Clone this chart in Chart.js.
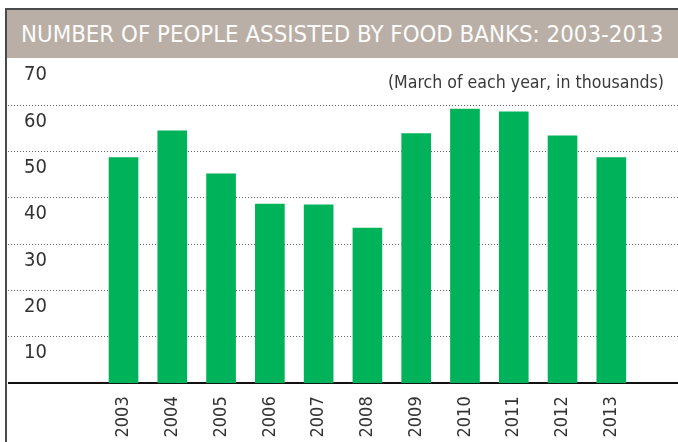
<!DOCTYPE html>
<html>
<head>
<meta charset="utf-8">
<title>Food bank use 2003-2013</title>
<script src="https://cdn.jsdelivr.net/npm/chart.js@4.4.0/dist/chart.umd.min.js"></script>
<style>
	html, body { margin: 0; padding: 0; background: #fff; }
	body { width: 678px; height: 442px; position: relative; overflow: hidden; font-family: 'Liberation Sans Narrow', 'DejaVu Sans Condensed', sans-serif; }
	#frame { position: absolute; left: 5px; top: 8px; width: 673px; height: 434px; border-left: 2px solid #4a4a4a; border-top: 2px solid #4a4a4a; }
	#heading { position: absolute; left: 7px; top: 10px; width: 671px; height: 48px; background: #b9afa6; color: #fdfcfb; font-size: 23.8px; line-height: 48px; padding-left: 14px; box-sizing: border-box; white-space: nowrap; }
	#note { position: absolute; right: 14px; top: 72px; font-size: 17.6px; line-height: 20px; color: #3a3a3a; white-space: nowrap; }
	#wrap { position: absolute; left: 8px; top: 59px; width: 670px; height: 383px; }
</style>
</head>
<body>
<div id="frame"></div>
<div id="heading">NUMBER OF PEOPLE ASSISTED BY FOOD BANKS: 2003-2013</div>
<div id="wrap"><canvas id="chartFoodBanks"></canvas></div>
<div id="note">(March of each year, in thousands)</div>
<script>
// people assisted in March, thousands
var years = [2003, 2004, 2005, 2006, 2007, 2008, 2009, 2010, 2011, 2012, 2013];
var assisted = [48.7, 54.5, 45.2, 38.7, 38.5, 33.5, 53.9, 59.2, 58.6, 53.4, 48.7];
var yTicks = [0, 10, 20, 30, 40, 50, 60, 70];

var labelFont = "'Liberation Sans Narrow', 'DejaVu Sans Condensed', sans-serif";

// keep label overhang from shrinking the plot area
function noPadding(axis) {
	axis.paddingTop = 0;
	axis.paddingBottom = 0;
	axis.paddingLeft = 0;
	axis.paddingRight = 0;
}

var ctx = document.getElementById('chartFoodBanks').getContext('2d');
var chart = new Chart(ctx, {
	type: 'bar',
	data: {
		datasets: [{
			label: 'People assisted',
			backgroundColor: '#00b25a',
			borderWidth: 0,
			barThickness: 29,
			data: years.map(function (yr, i) { return { x: yr, y: assisted[i] }; })
		}]
	},
	options: {
		responsive: true,
		maintainAspectRatio: false,
		devicePixelRatio: 1,
		animation: false,
		layout: { padding: 0 },
		plugins: {
			legend: { display: false },
			tooltip: { enabled: false },
			title: { display: false }
		},
		scales: {
			x: {
				type: 'linear',
				bounds: 'data',
				offset: false,
				min: 2000.632,
				max: 2014.367,
				afterBuildTicks: function (axis) {
					axis.ticks = years.map(function (yr) { return { value: yr }; });
				},
				afterFit: function (axis) { axis.height = 58.7; noPadding(axis); },
				grid: { display: false, drawTicks: false },
				border: { display: true, color: '#111', width: 2 },
				ticks: {
					autoSkip: false,
					minRotation: 90,
					maxRotation: 90,
					padding: 13,
					color: '#333',
					font: { family: labelFont, size: 18 },
					callback: function (v) { return String(v); }
				}
			},
			y: {
				min: 0,
				max: 70,
				afterBuildTicks: function (axis) {
					axis.ticks = yTicks.map(function (v) { return { value: v }; });
				},
				afterFit: function (axis) { axis.width = 0; noPadding(axis); },
				grid: {
					drawTicks: false,
					lineWidth: 1,
					color: function (c) {
						var v = c.tick ? c.tick.value : 0;
						return (v === 0 || v === 70) ? 'rgba(0,0,0,0)' : '#666';
					}
				},
				border: { display: false, dash: [1, 2] },
				ticks: {
					mirror: true,
					padding: 16,
					labelOffset: 16,
					color: '#333',
					font: { family: labelFont, size: 20 },
					callback: function (v) { return v === 0 ? '' : String(v); }
				}
			}
		}
	}
});
</script>
</body>
</html>
